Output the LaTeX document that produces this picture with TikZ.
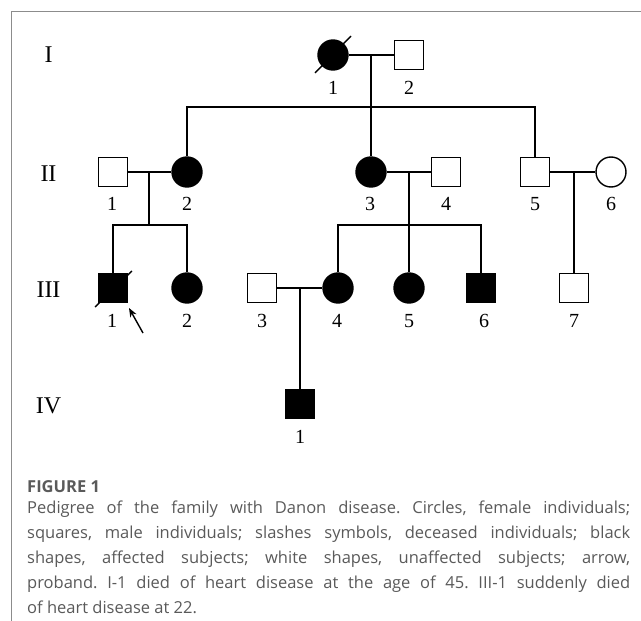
\documentclass[tikz,border=0pt]{standalone}
\usepackage{fontspec}
\setmainfont{Liberation Serif}
\newfontfamily\capfont{Open Sans}
\usetikzlibrary{arrows.meta,calc}
\definecolor{framegray}{HTML}{8C8C8C}
\definecolor{capgray}{HTML}{5A5A5A}
\begin{document}
\begin{tikzpicture}[x=1pt,y=-1pt,
  male/.style={draw, rectangle, minimum size=29.5pt, inner sep=0pt, line width=1.4pt},
  female/.style={draw, circle, minimum size=30pt, inner sep=0pt, line width=1.4pt},
  aff/.style={fill=black},
  unaff/.style={fill=white},
  lbl/.style={font=\fontsize{20}{20}\selectfont, inner sep=0pt},
  gen/.style={font=\fontsize{24}{24}\selectfont, inner sep=0pt},
  rel/.style={line width=1.6pt},
  slash/.style={line width=1.4pt}]
\fill[white] (0,0) rectangle (641,621);
\useasboundingbox (0,0) rectangle (641,621);
\draw[framegray, line width=1pt] (11,621) -- (11,11) -- (641,11);

% generation labels
\node[gen] (gI) at (48.5,55) {I};
\node[gen] (gII) at (48.5,174) {II};
\node[gen] (gIII) at (48.5,290) {III};
\node[gen] (gIV) at (48.5,406) {IV};

% generation I
\node[female,aff] (I1) at (333,55) {};
\node[male,unaff] (I2) at (409,55) {};
% generation II
\node[male,unaff] (II1) at (113,172) {};
\node[female,aff] (II2) at (187,172) {};
\node[female,aff] (II3) at (371,172) {};
\node[male,unaff] (II4) at (446,172) {};
\node[male,unaff] (II5) at (535,172) {};
\node[female,unaff] (II6) at (611,172) {};
% generation III
\node[male,aff] (III1) at (113,288) {};
\node[female,aff] (III2) at (187,288) {};
\node[male,unaff] (III3) at (262,288) {};
\node[female,aff] (III4) at (338,288) {};
\node[female,aff] (III5) at (409,288) {};
\node[male,aff] (III6) at (481,288) {};
\node[male,unaff] (III7) at (574,288) {};
% generation IV
\node[male,aff] (IV1) at (300,404) {};

% numbers
\node[lbl] (lI1) at (333,88) {1};
\node[lbl] (lI2) at (409,88) {2};
\node[lbl] (lII1) at (112,204) {1};
\node[lbl] (lII2) at (187,204) {2};
\node[lbl] (lII3) at (370,204) {3};
\node[lbl] (lII4) at (446,204) {4};
\node[lbl] (lII5) at (535,204) {5};
\node[lbl] (lII6) at (611,204) {6};
\node[lbl] (lIII1) at (112,321) {1};
\node[lbl] (lIII2) at (187,321) {2};
\node[lbl] (lIII3) at (262,321) {3};
\node[lbl] (lIII4) at (337,321) {4};
\node[lbl] (lIII5) at (409,321) {5};
\node[lbl] (lIII6) at (484,321) {6};
\node[lbl] (lIII7) at (574,321) {7};
\node[lbl] (lIV1) at (300,437) {1};

% relationship lines
\coordinate (mI) at (371,55);
\coordinate (sI) at (371,107);
\draw[rel] (I1.east) -- (I2.west);
\draw[rel] (mI) -- (II3.north);
\draw[rel] (II2.north) |- (sI) -| (II5.north);

\coordinate (mII1) at (149,172);
\coordinate (sII1) at (149,225);
\draw[rel] (II1.east) -- (II2.west);
\draw[rel] (mII1) -- (sII1);
\draw[rel] (III1.north) |- (sII1) -| (III2.north);

\coordinate (mII3) at (409,172);
\coordinate (sII3) at (409,225);
\draw[rel] (II3.east) -- (II4.west);
\draw[rel] (mII3) -- (III5.north);
\draw[rel] (III4.north) |- (sII3) -| (III6.north);

\coordinate (mII5) at (574,172);
\draw[rel] (II5.east) -- (II6.west);
\draw[rel] (mII5) -- (III7.north);

\coordinate (mIII) at (300,288);
\draw[rel] (III3.east) -- (III4.west);
\draw[rel] (mIII) -- (IV1.north);

% deceased slashes
\draw[slash] ($(I1.center)+(-18,18)$) -- ($(I1.center)+(18,-19)$);
\draw[slash] ($(III1.center)+(-18,19)$) -- ($(III1.center)+(19,-17)$);

% proband arrow
\coordinate (arT) at (143,333);
\coordinate (arH) at (129,308);
\draw[line width=1.4pt, -{Stealth[length=9pt,width=7pt]}] (arT) -- (arH);

% caption
\node[anchor=base west, inner sep=0pt, font=\capfont\bfseries\fontsize{16.5}{16.5}\selectfont, text=capgray] (fig) at (27,492) {FIGURE 1};
\node[anchor=north west, inner sep=0pt, text width=603pt, align=justify,
      font=\capfont\frenchspacing\fontsize{16.5}{25}\selectfont, text=capgray] (cap) at (27,501)
 {Pedigree of the family with Danon disease. Circles, female individuals;\linebreak
  squares, male individuals; slashes symbols, deceased individuals; black\linebreak
  shapes, affected subjects; white shapes, unaffected subjects; arrow,\linebreak
  proband. I-1 died of heart disease at the age of 45. III-1 suddenly died\linebreak
  of heart disease at 22.};
\end{tikzpicture}
\end{document}
